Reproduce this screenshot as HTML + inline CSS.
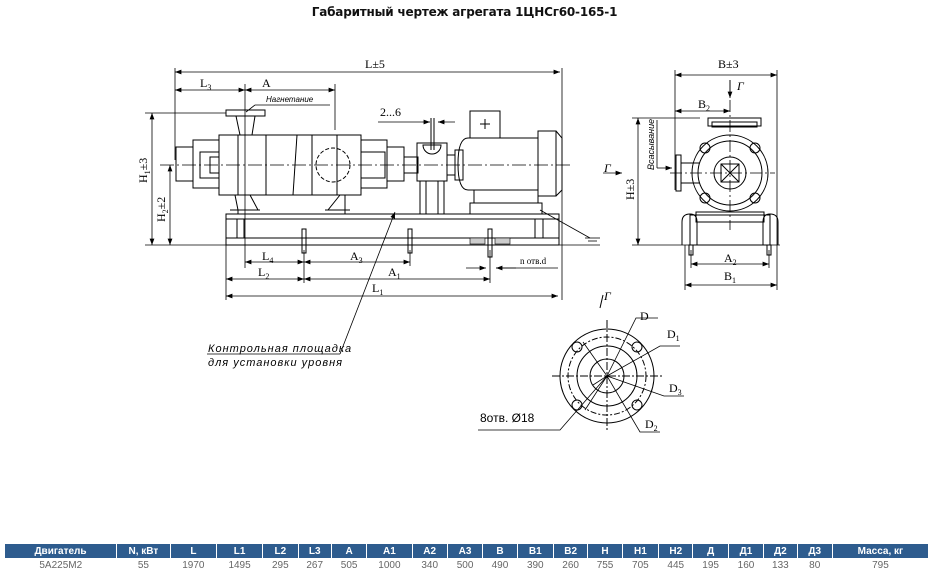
<!DOCTYPE html>
<html><head><meta charset="utf-8"><style>
html,body{margin:0;padding:0;background:#fff;width:929px;height:578px;overflow:hidden}
.t{position:absolute;left:0;top:5px;width:929px;text-align:center;font:bold 12px "DejaVu Sans","Liberation Sans",sans-serif;color:#111;letter-spacing:-0.2px}
table{position:absolute;left:5px;top:544px;border-collapse:collapse;font-family:"Liberation Sans",sans-serif}
th{background:#2e5c8e;color:#fff;font-size:10px;height:14px;padding:0;border-right:1px solid #fff;font-weight:bold}
td{font-size:10px;color:#666;text-align:center;height:15px;padding:0}
</style></head><body>
<div class="t">Габаритный чертеж агрегата 1ЦНСг60-165-1</div>
<svg width="929" height="540" style="position:absolute;left:0;top:0" font-family="Liberation Serif,serif" stroke="#000" fill="none" stroke-width="1">
<defs><marker id="a" markerWidth="8" markerHeight="6" refX="8" refY="3" orient="auto-start-reverse"><path d="M0,0L8,3L0,6z" fill="#000" stroke="none"/></marker></defs>
<g fill="#000" stroke="none" font-size="12">
<text x="365" y="68">L±5</text><text x="200" y="87">L<tspan font-size="8" dy="3">3</tspan></text><text x="262" y="87">A</text>
<text x="380" y="116">2...6</text>
<text x="266" y="102" font-size="8" font-style="italic" font-family="Liberation Sans,sans-serif">Нагнетание</text>
<text x="262" y="260">L<tspan font-size="8" dy="3">4</tspan></text><text x="350" y="260">A<tspan font-size="8" dy="3">3</tspan></text>
<text x="258" y="276">L<tspan font-size="8" dy="3">2</tspan></text><text x="388" y="276">A<tspan font-size="8" dy="3">1</tspan></text>
<text x="372" y="292">L<tspan font-size="8" dy="3">1</tspan></text>
<text x="520" y="264" font-size="9">n отв.d</text>
<text transform="translate(147,183) rotate(-90)">H<tspan font-size="8" dy="3">1</tspan><tspan dy="-3">±3</tspan></text>
<text transform="translate(165,222) rotate(-90)">H<tspan font-size="8" dy="3">2</tspan><tspan dy="-3">±2</tspan></text>
<text transform="translate(634,200) rotate(-90)">H±3</text>
<text transform="translate(654,170) rotate(-90)" font-size="9" font-style="italic" font-family="Liberation Sans,sans-serif">Всасывание</text>
<text x="718" y="68">B±3</text><text x="698" y="108">B<tspan font-size="8" dy="3">2</tspan></text>
<text x="724" y="262">A<tspan font-size="8" dy="3">2</tspan></text><text x="724" y="280">B<tspan font-size="8" dy="3">1</tspan></text>
<text x="737" y="90" font-style="italic">Г</text><text x="604" y="172" font-style="italic">Г</text><text x="604" y="300" font-style="italic">Г</text>
<text x="640" y="320">D</text><text x="667" y="338">D<tspan font-size="8" dy="3">1</tspan></text>
<text x="669" y="392">D<tspan font-size="8" dy="3">3</tspan></text><text x="645" y="428">D<tspan font-size="8" dy="3">2</tspan></text>
<text x="480" y="422" font-family="Liberation Sans,sans-serif">8отв.  Ø18</text>
<text x="208" y="352" font-size="11" font-style="italic" font-family="Liberation Sans,sans-serif" letter-spacing="1">Контрольная площадка</text>
<text x="208" y="366" font-size="11" font-style="italic" font-family="Liberation Sans,sans-serif" letter-spacing="1">для установки уровня</text>
</g>
<g stroke-width="0.8">
<line x1="175" y1="72" x2="560" y2="72" marker-start="url(#a)" marker-end="url(#a)"/>
<line x1="175" y1="68" x2="175" y2="160"/><line x1="562" y1="68" x2="562" y2="300"/>
<line x1="175" y1="90" x2="245" y2="90" marker-start="url(#a)" marker-end="url(#a)"/><line x1="245" y1="90" x2="335" y2="90" marker-start="url(#a)" marker-end="url(#a)"/>
<line x1="245" y1="84" x2="245" y2="268"/><line x1="335" y1="84" x2="335" y2="130"/>
<line x1="255" y1="105" x2="330" y2="105"/><line x1="255" y1="105" x2="246" y2="112"/>
<line x1="145" y1="113" x2="226" y2="113"/><line x1="152" y1="113" x2="152" y2="245" marker-start="url(#a)" marker-end="url(#a)"/>
<line x1="170" y1="165" x2="170" y2="245" marker-start="url(#a)" marker-end="url(#a)"/>
<line x1="145" y1="245" x2="600" y2="245"/>
<line x1="160" y1="165" x2="570" y2="165" stroke-dasharray="14,3,2,3"/>
<line x1="378" y1="122" x2="422" y2="122"/><line x1="422" y1="122" x2="430" y2="122" marker-end="url(#a)"/><line x1="445" y1="122" x2="438" y2="122" marker-end="url(#a)" /><line x1="438" y1="122" x2="455" y2="122"/>
<line x1="245" y1="262" x2="304" y2="262" marker-start="url(#a)" marker-end="url(#a)"/><line x1="304" y1="262" x2="410" y2="262" marker-start="url(#a)" marker-end="url(#a)"/>
<line x1="226" y1="279" x2="304" y2="279" marker-start="url(#a)" marker-end="url(#a)"/><line x1="304" y1="279" x2="490" y2="279" marker-start="url(#a)" marker-end="url(#a)"/>
<line x1="226" y1="296" x2="558" y2="296" marker-start="url(#a)" marker-end="url(#a)"/>
<line x1="226" y1="245" x2="226" y2="300"/><line x1="304" y1="250" x2="304" y2="283"/><line x1="410" y1="250" x2="410" y2="266"/><line x1="490" y1="250" x2="490" y2="283"/>
<line x1="466" y1="268" x2="486" y2="268" marker-end="url(#a)"/><line x1="516" y1="268" x2="496" y2="268" marker-end="url(#a)"/><line x1="496" y1="268" x2="558" y2="268"/>
<line x1="207" y1="354" x2="340" y2="354"/><line x1="340" y1="354" x2="395" y2="212" marker-end="url(#a)"/>
<line x1="540" y1="210" x2="590" y2="238"/><line x1="585" y1="238" x2="600" y2="238"/><line x1="588" y1="241" x2="597" y2="241"/>
</g>
<rect x="226" y="214" width="333" height="31"/><line x1="226" y1="219" x2="559" y2="219"/><line x1="226" y1="238" x2="559" y2="238"/>
<line x1="237" y1="219" x2="237" y2="238"/><line x1="244" y1="219" x2="244" y2="238"/><line x1="535" y1="219" x2="535" y2="238"/><line x1="543" y1="219" x2="543" y2="238"/>
<rect x="302" y="229" width="4" height="24"/><rect x="408" y="229" width="4" height="24"/><rect x="488" y="229" width="4" height="28"/>
<g fill="#ccc" stroke-width="0.6"><rect x="470" y="238" width="15" height="6"/><rect x="495" y="238" width="15" height="6"/></g>
<rect x="176" y="147" width="17" height="34"/><rect x="193" y="140" width="26" height="48"/>
<rect x="200" y="152" width="19" height="26"/><rect x="210" y="157" width="9" height="16"/>
<rect x="219" y="135" width="142" height="60"/><line x1="238" y1="135" x2="238" y2="195"/><line x1="266" y1="135" x2="266" y2="195"/><line x1="297" y1="135" x2="293" y2="195"/><line x1="312" y1="135" x2="312" y2="195"/><line x1="337" y1="135" x2="337" y2="195"/>
<circle cx="333" cy="165" r="17" stroke-dasharray="4,2"/>
<rect x="226" y="110" width="39" height="6"/><line x1="236" y1="116" x2="240" y2="135"/><line x1="255" y1="116" x2="252" y2="135"/>
<rect x="361" y="140" width="26" height="48"/><rect x="361" y="152" width="24" height="26"/>
<rect x="387" y="147" width="17" height="34"/><rect x="404" y="157" width="14" height="16"/>
<path d="M235 195 L238 210 L258 210 L250 195 M340 195 L328 210 L345 210 L345 195"/>
<line x1="230" y1="210" x2="260" y2="210"/><line x1="325" y1="210" x2="350" y2="210"/><line x1="238" y1="210" x2="238" y2="214"/><line x1="345" y1="210" x2="345" y2="214"/>
<rect x="417" y="143" width="30" height="38"/><path d="M423 145 A9 9 0 0 0 441 145 Z"/>
<line x1="431" y1="118" x2="431" y2="150"/><line x1="434" y1="118" x2="434" y2="150"/>
<path d="M420 181V214M426 181V214M438 181V214M444 181V214"/>
<rect x="447" y="155" width="8" height="20"/><rect x="455" y="150" width="8" height="30"/>
<rect x="470" y="111" width="30" height="27"/><path d="M485 119v10M480 124h10"/>
<path d="M468 138 H538 V190 H468 Q458 190 458 164 Q458 138 468 138Z"/>
<rect x="538" y="131" width="18" height="65"/><path d="M556 131 L562 138 V190 L556 196"/>
<rect x="474" y="190" width="64" height="13"/><rect x="470" y="203" width="72" height="11"/>
<g stroke-width="0.8">
<line x1="675" y1="75" x2="777" y2="75" marker-start="url(#a)" marker-end="url(#a)"/><line x1="675" y1="70" x2="675" y2="190"/><line x1="777" y1="70" x2="777" y2="290"/>
<line x1="675" y1="111" x2="730" y2="111" marker-start="url(#a)" marker-end="url(#a)"/>
<line x1="730" y1="80" x2="730" y2="230" stroke-dasharray="12,3,2,3"/><line x1="730" y1="80" x2="730" y2="98" marker-end="url(#a)"/>
<line x1="603" y1="173" x2="622" y2="173" marker-end="url(#a)"/>
<line x1="632" y1="118" x2="700" y2="118"/><line x1="638" y1="118" x2="638" y2="245" marker-start="url(#a)" marker-end="url(#a)"/>
<line x1="632" y1="245" x2="780" y2="245"/>
<line x1="657" y1="120" x2="657" y2="168"/><line x1="657" y1="168" x2="672" y2="168" marker-end="url(#a)"/>
<line x1="691" y1="264" x2="769" y2="264" marker-start="url(#a)" marker-end="url(#a)"/>
<line x1="685" y1="285" x2="777" y2="285" marker-start="url(#a)" marker-end="url(#a)"/>
<line x1="685" y1="245" x2="685" y2="290"/><line x1="691" y1="250" x2="691" y2="268"/><line x1="769" y1="250" x2="769" y2="268"/>
<line x1="670" y1="173" x2="775" y2="173" stroke-dasharray="12,3,2,3"/>
</g>
<rect x="676" y="155" width="5" height="36"/><path d="M681 163 H700 M681 183 H700"/>
<rect x="708" y="118" width="53" height="8"/><rect x="712" y="122" width="45" height="5"/>
<circle cx="730" cy="173" r="38"/><circle cx="730" cy="173" r="32"/><circle cx="730" cy="173" r="16"/>
<rect x="721" y="164" width="18" height="18"/><path d="M721 164L739 182M739 164L721 182"/>
<circle cx="705" cy="148" r="5"/><circle cx="755" cy="148" r="5"/><circle cx="705" cy="198" r="5"/><circle cx="755" cy="198" r="5"/>
<rect x="696" y="212" width="68" height="10"/><rect x="690" y="215" width="80" height="30"/>
<path d="M682 245 V222 Q682 214 690 214 Q697 214 697 222 V245 M763 245 V222 Q763 214 770 214 Q778 214 778 222 V245"/>
<rect x="689" y="245" width="4" height="10"/><rect x="767" y="245" width="4" height="10"/>
<circle cx="607" cy="376" r="47"/><circle cx="607" cy="376" r="39" stroke-dasharray="6,2,2,2"/><circle cx="607" cy="376" r="30"/><circle cx="607" cy="376" r="17"/>
<line x1="552" y1="376" x2="662" y2="376" stroke-dasharray="8,2,2,2"/><line x1="607" y1="320" x2="607" y2="432" stroke-dasharray="8,2,2,2"/>
<circle cx="577" cy="347" r="5"/><circle cx="637" cy="347" r="5"/><circle cx="577" cy="405" r="5"/><circle cx="637" cy="405" r="5"/>
<g stroke-width="0.8"><path d="M607 376L636 318H658M607 376L660 346H680M607 376L664 396H684M607 376L640 432H660M607 376L560 430H478"/>
<path d="M607 376L583 342M607 376L593 385M607 376L585 410"/></g>
<line x1="603" y1="295" x2="600" y2="308"/>
</svg>
<table>
<tr><th style="width:113px">Двигатель</th><th style="width:54px">N, кВт</th><th style="width:46px">L</th><th style="width:46px">L1</th><th style="width:35px">L2</th><th style="width:33px">L3</th><th style="width:35px">A</th><th style="width:45px">A1</th><th style="width:35px">A2</th><th style="width:35px">A3</th><th style="width:34px">B</th><th style="width:36px">B1</th><th style="width:34px">B2</th><th style="width:34px">H</th><th style="width:36px">H1</th><th style="width:34px">H2</th><th style="width:35px">Д</th><th style="width:35px">Д1</th><th style="width:33px">Д2</th><th style="width:35px">Д3</th><th style="width:97px">Масса, кг</th></tr>
<tr><td>5A225M2</td><td>55</td><td>1970</td><td>1495</td><td>295</td><td>267</td><td>505</td><td>1000</td><td>340</td><td>500</td><td>490</td><td>390</td><td>260</td><td>755</td><td>705</td><td>445</td><td>195</td><td>160</td><td>133</td><td>80</td><td>795</td></tr>
</table>
</body></html>
